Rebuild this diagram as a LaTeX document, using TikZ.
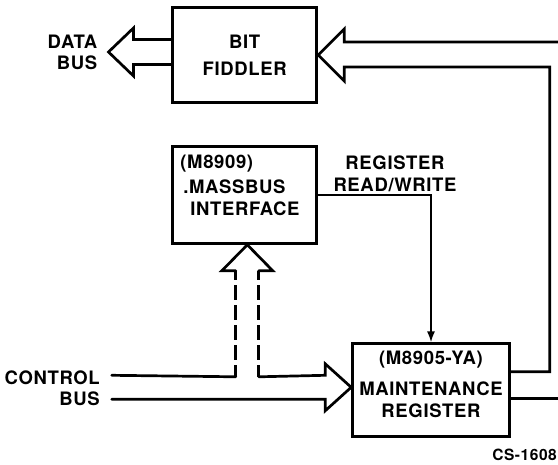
\documentclass[tikz,border=0pt]{standalone}
\usepackage{fontspec}
\setmainfont{TeX Gyre Heros}[LetterSpace=3.5]
\usetikzlibrary{arrows.meta, positioning, calc}

\begin{document}
\begin{tikzpicture}[
  x=1pt, y=-1pt,
  box/.style={draw, line width=3pt, inner sep=0pt, align=center, font=\fontsize{18.5}{22}\selectfont\bfseries},
  boxtext/.style={inner sep=0pt, font=\fontsize{18.5}{22}\selectfont\bfseries},
  bus/.style={line width=2.7pt, line join=miter, line cap=round},
  dashbus/.style={line width=2.7pt, dash pattern=on 15pt off 5pt, dash phase=3pt},
  signal/.style={line width=1.8pt, -{Latex[length=11pt, width=8pt]}},
  note/.style={inner sep=0pt, align=right, font=\fontsize{18.5}{21}\selectfont\bfseries},
]
  \useasboundingbox (0,0) rectangle (558,465);

  % boxes
  \node[box, minimum width=144pt, minimum height=95.4pt] (fiddler) at (244.7,55) {BIT\\[5pt]FIDDLER};
  \node[box, minimum width=144pt, minimum height=96.6pt] (massbus) at (244.7,195) {};
  \node[box, minimum width=156.6pt, minimum height=92.7pt] (maint) at (431,390.3) {};

  \node[boxtext, anchor=north west, align=left] (massbustext) at ($(massbus.north west)+(9,10)$)
    {(M8909)\\[2.5pt]\hspace*{3pt}.MASSBUS\\\hspace*{10pt}INTERFACE};
  \node[boxtext, anchor=north, align=center] (mainttext) at ($(maint.north)+(0,8.5)$)
    {(M8905-YA)\\[8.5pt]MAINTENANCE\\REGISTER};

  % free ends
  \coordinate (dtip) at ($(fiddler.west)+(-62.7,-3)$);
  \coordinate (mtip) at ($(massbus.south)+(2.6,0)$);
  \coordinate (mrtip) at ($(maint.west)+(0,-3)$);
  \coordinate (edgetop) at (560,42);
  \coordinate (edgebot) at (560,398.3);
  \coordinate (ctlin) at (111.7,375.3);
  \coordinate (busin) at (111.7,399.3);

  % labels
  \node[note, left=11pt of dtip] (databus) {DATA\\BUS};
  \node[note, anchor=east] (ctlbus) at (100,388) {CONTROL\\BUS};
  \node[boxtext, align=center] (rwlabel) at (395,174) {REGISTER\\READ/WRITE};
  \node[inner sep=0pt, anchor=east, font=\fontsize{15.5}{18}\selectfont\bfseries] (csno) at (557,455) {CS-1608};

  % data bus out of the bit fiddler
  \draw[bus] ($(fiddler.west)+(0,-15.5)$) -- ++(-37.7,0) -- ++(0,-11.5) -- (dtip)
    -- ++(25,24) -- ++(0,-11.5) -- ($(fiddler.west)+(0,9.5)$);

  % into the bit fiddler
  \draw[bus] (edgetop) -- ($(fiddler.east)+(26,-13)$) -- ++(0,-13) -- (fiddler.east)
    -- ++(26,26) -- ++(0,-14) -| ($(maint.east)+(39,-18.6)$) -- ($(maint.east)+(0,-18.6)$);
  \draw[bus] ($(maint.east)+(0,8)$) -- (edgebot);

  % register read/write
  \draw[signal] (massbus.east) -| (maint.north);

  % control bus
  \draw[bus] ($(mtip)+(-11.5,26)$) -- ++(-14,0) -- (mtip) -- ++(25.5,26) -- ++(-14,0);
  \draw[dashbus] ($(mtip)+(-11.5,132)$) -- ++(0,-106);
  \draw[dashbus] ($(mtip)+(11.5,132)$) -- ++(0,-106);
  \draw[bus] ($(mtip)+(-11.5,132)$) -- (ctlin);
  \draw[bus] ($(mtip)+(11.5,132)$) -- ($(mrtip)+(-26,-12)$) -- ++(0,-11.5) -- (mrtip)
    -- ++(-26,23.5) -- ++(0,-11.5) -- (busin);
\end{tikzpicture}
\end{document}
